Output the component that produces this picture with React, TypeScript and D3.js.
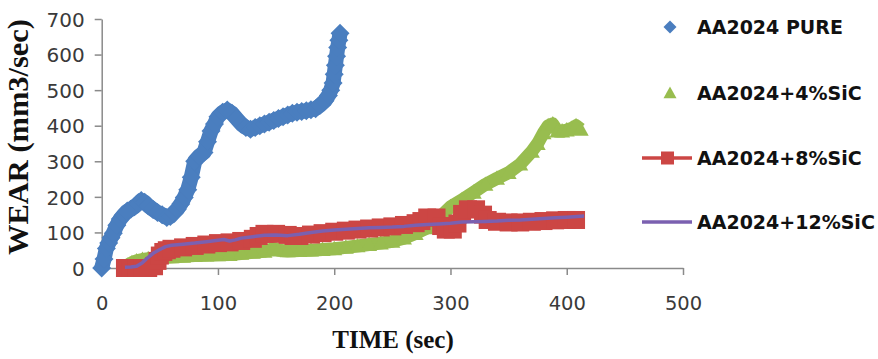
import React, { useEffect, useRef } from 'react';
import * as d3 from 'd3';

type Pt = [number, number];

const xTicks = [0, 100, 200, 300, 400, 500];
const yTicks = [0, 100, 200, 300, 400, 500, 600, 700];
const seriesNames = ['AA2024 PURE', 'AA2024+4%SiC', 'AA2024+8%SiC', 'AA2024+12%SiC'];
const seriesColors = ['#4a7ebf', '#98bd4f', '#cc4644', '#7b60b0'];

// time (sec), wear (mm3/sec)
const pureData: Pt[] = [
  [0, 0], [2, 25], [4, 55], [6, 70], [8, 85], [10, 98], [13, 120], [16, 138], [19, 150],
  [22, 160], [25, 165], [28, 172], [31, 180], [34, 190], [37, 185], [40, 175], [44, 165],
  [48, 156], [52, 150], [56, 142], [59, 145], [62, 155], [65, 165], [68, 180], [71, 198],
  [74, 220], [77, 255], [80, 300], [84, 315], [88, 325], [91, 355], [94, 385], [97, 405],
  [100, 425], [104, 438], [108, 444], [112, 435], [116, 420], [120, 405], [124, 395],
  [128, 390], [132, 395], [136, 400], [140, 405], [144, 410], [148, 415], [152, 420],
  [156, 425], [160, 430], [164, 435], [168, 438], [172, 440], [176, 442], [180, 445],
  [184, 448], [188, 458], [192, 470], [195, 485], [197, 500], [199, 520], [200, 545],
  [201, 570], [202, 595], [203, 620], [204, 640], [205, 660],
];

const sic4Data: Pt[] = [
  [22, 8], [26, 15], [30, 20], [35, 24], [40, 26], [50, 29], [60, 31], [70, 33], [80, 35],
  [90, 36], [100, 37], [110, 38], [120, 41], [130, 44], [140, 47], [148, 55], [152, 50],
  [160, 48], [170, 49], [180, 50], [190, 52], [200, 54], [210, 58], [220, 62], [230, 66],
  [240, 70], [250, 75], [260, 84], [270, 97], [280, 113], [290, 140], [300, 172],
  [310, 192], [320, 213], [330, 235], [340, 252], [350, 268], [360, 292], [370, 328],
  [375, 350], [380, 380], [384, 400], [388, 405], [392, 385], [396, 385], [400, 388],
  [404, 392], [408, 400], [412, 390],
];

const sic8Data: Pt[] = [
  [20, 0], [25, 0], [30, 0], [35, 0], [40, 0], [45, 5], [48, 20], [50, 35], [53, 45],
  [56, 50], [60, 54], [70, 58], [80, 62], [90, 66], [100, 70], [110, 72], [120, 76],
  [130, 82], [135, 90], [140, 96], [150, 96], [160, 93], [165, 90], [170, 90], [180, 94],
  [190, 98], [200, 102], [210, 105], [220, 108], [230, 111], [240, 114], [250, 117],
  [260, 121], [270, 126], [275, 132], [280, 142], [288, 142], [292, 118], [296, 108],
  [302, 108], [306, 125], [310, 152], [315, 165], [322, 165], [328, 150], [332, 135],
  [340, 130], [350, 128], [360, 128], [370, 130], [380, 132], [390, 134], [400, 135],
  [408, 135],
];

const sic12Data: Pt[] = [
  [20, 2], [25, 3], [30, 5], [35, 15], [40, 30], [45, 43], [50, 52], [55, 60], [60, 64],
  [70, 67], [80, 70], [90, 74], [100, 78], [105, 80], [110, 76], [115, 79], [120, 84],
  [130, 88], [140, 92], [150, 93], [160, 91], [170, 95], [180, 100], [190, 104],
  [200, 107], [210, 109], [220, 111], [230, 113], [240, 114], [250, 115], [260, 117],
  [270, 120], [280, 122], [290, 124], [300, 126], [310, 129], [320, 130], [330, 131],
  [340, 132], [350, 134], [360, 135], [370, 137], [380, 139], [390, 141], [400, 143],
  [415, 146],
];

const W = 878;
const H = 359;
const plot = { left: 101.7, right: 683, top: 19, bottom: 268 };

const diamond = (r: number) => `M0,${-r}L${r},0L0,${r}L${-r},0Z`;
const triangle = (r: number) => `M0,${-r}L${r},${r * 0.8}L${-r},${r * 0.8}Z`;

export default function App() {
  const svgRef = useRef<SVGSVGElement>(null);

  useEffect(() => {
    if (!svgRef.current) return;
    const svg = d3.select(svgRef.current);
    svg.selectAll('*').remove();

    const x = d3.scaleLinear().domain([0, 500]).range([plot.left, plot.right]);
    const y = d3.scaleLinear().domain([0, 700]).range([plot.bottom, plot.top]);

    const axisColor = '#8a8a8a';
    const tickFont = '"DejaVu Sans", sans-serif';

    // axes
    svg.append('g')
      .attr('transform', `translate(${plot.left},0)`)
      .call(d3.axisLeft(y).tickValues(yTicks).tickSize(7).tickSizeOuter(0))
      .call((g: any) => g.select('.domain').attr('stroke', axisColor).attr('stroke-width', 1.5))
      .call((g: any) => g.selectAll('line').attr('stroke', axisColor).attr('stroke-width', 1.5))
      .call((g: any) => g.selectAll('text')
        .attr('x', -17)
        .attr('dy', '0.36em')
        .attr('fill', '#3a3a3a')
        .attr('font-family', tickFont)
        .attr('font-size', 20));

    svg.append('g')
      .attr('transform', `translate(0,${plot.bottom})`)
      .call(d3.axisBottom(x).tickValues(xTicks).tickSize(7).tickSizeOuter(0))
      .call((g: any) => g.select('.domain').attr('stroke', axisColor).attr('stroke-width', 1.5))
      .call((g: any) => g.selectAll('line').attr('stroke', axisColor).attr('stroke-width', 1.5))
      .call((g: any) => g.selectAll('text')
        .attr('y', 42)
        .attr('dy', 0)
        .attr('fill', '#3a3a3a')
        .attr('font-family', tickFont)
        .attr('font-size', 19.5));

    const line = d3.line<Pt>().x(d => x(d[0])).y(d => y(d[1]));

    // AA2024 PURE - diamonds
    svg.append('path')
      .attr('d', line(pureData))
      .attr('fill', 'none')
      .attr('stroke', seriesColors[0])
      .attr('stroke-width', 15)
      .attr('stroke-linejoin', 'round');
    svg.append('g').selectAll('path')
      .data(pureData)
      .enter()
      .append('path')
      .attr('transform', d => `translate(${x(d[0])},${y(d[1])})`)
      .attr('d', diamond(9.5))
      .attr('fill', seriesColors[0]);

    // AA2024+4%SiC - triangles
    svg.append('path')
      .attr('d', line(sic4Data))
      .attr('fill', 'none')
      .attr('stroke', seriesColors[1])
      .attr('stroke-width', 13)
      .attr('stroke-linejoin', 'round');
    svg.append('g').selectAll('path')
      .data(sic4Data)
      .enter()
      .append('path')
      .attr('transform', d => `translate(${x(d[0])},${y(d[1])})`)
      .attr('d', triangle(8))
      .attr('fill', seriesColors[1]);

    // AA2024+8%SiC - squares on a line
    svg.append('path')
      .attr('d', line(sic8Data))
      .attr('fill', 'none')
      .attr('stroke', seriesColors[2])
      .attr('stroke-width', 16)
      .attr('stroke-linejoin', 'round');
    svg.append('g').selectAll('rect')
      .data(sic8Data)
      .enter()
      .append('rect')
      .attr('x', d => x(d[0]) - 9)
      .attr('y', d => y(d[1]) - 9)
      .attr('width', 18)
      .attr('height', 18)
      .attr('fill', seriesColors[2]);

    // AA2024+12%SiC - plain line
    svg.append('path')
      .attr('d', line(sic12Data))
      .attr('fill', 'none')
      .attr('stroke', seriesColors[3])
      .attr('stroke-width', 3.5)
      .attr('stroke-linejoin', 'round');

    // axis titles
    svg.append('text')
      .attr('x', 393)
      .attr('y', 348)
      .attr('text-anchor', 'middle')
      .attr('font-family', '"Liberation Serif", serif')
      .attr('font-weight', 'bold')
      .attr('font-size', 25)
      .attr('fill', '#111')
      .text('TIME (sec)');

    svg.append('text')
      .attr('transform', 'translate(28,137) rotate(-90)')
      .attr('text-anchor', 'middle')
      .attr('font-family', '"Liberation Serif", serif')
      .attr('font-weight', 'bold')
      .attr('font-size', 29)
      .attr('textLength', 236)
      .attr('lengthAdjust', 'spacingAndGlyphs')
      .attr('fill', '#111')
      .text('WEAR (mm3/sec)');

    // legend
    const legendY = [27, 93, 158, 222];
    const legend = svg.append('g');
    seriesNames.forEach((name, i) => {
      const row = legend.append('g').attr('transform', `translate(0,${legendY[i]})`);
      if (i === 0) {
        row.append('path').attr('transform', 'translate(670,0)').attr('d', diamond(6.5)).attr('fill', seriesColors[0]);
      } else if (i === 1) {
        row.append('path').attr('transform', 'translate(670,0)').attr('d', triangle(6.5)).attr('fill', seriesColors[1]);
      } else if (i === 2) {
        row.append('line').attr('x1', 642).attr('x2', 692).attr('stroke', seriesColors[2]).attr('stroke-width', 3.5);
        row.append('rect').attr('x', 661).attr('y', -6.5).attr('width', 13).attr('height', 13).attr('fill', seriesColors[2]);
      } else {
        row.append('line').attr('x1', 642).attr('x2', 692).attr('stroke', seriesColors[3]).attr('stroke-width', 3.5);
      }
      row.append('text')
        .attr('x', 697)
        .attr('dy', '0.36em')
        .attr('font-family', '"DejaVu Sans", sans-serif')
        .attr('font-weight', 'bold')
        .attr('font-size', 19)
        .attr('fill', '#111')
        .text(name);
    });
  }, []);

  return (
    <svg
      ref={svgRef}
      width={W}
      height={H}
      style={{ position: 'absolute', left: 0, top: 0, background: '#fff', display: 'block' }}
    />
  );
}
